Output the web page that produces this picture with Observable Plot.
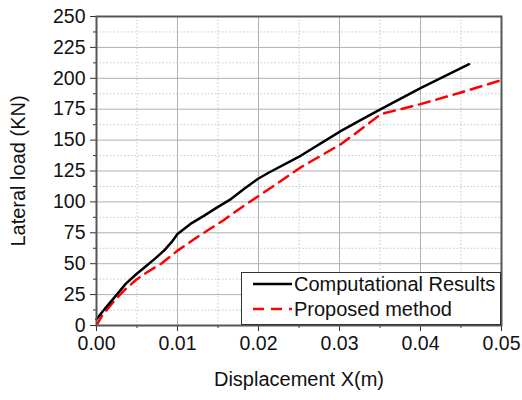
<!DOCTYPE html>
<html>
<head>
<meta charset="utf-8">
<script src="https://cdn.jsdelivr.net/npm/d3@7"></script>
<script src="https://cdn.jsdelivr.net/npm/@observablehq/plot@0.6"></script>
<style>
  html, body { margin: 0; padding: 0; background: #fff; }
  #wrap { position: relative; width: 522px; height: 400px; font-family: "Liberation Sans", Arial, sans-serif; }
  #legend { position: absolute; background: #fff; border: 1px solid #333; box-sizing: border-box; font-size: 20px; color: #111; }
  #legend .row { position: absolute; left: 0; display: flex; align-items: center; }
  #legend svg { display: block; }
</style>
</head>
<body>
<div id="wrap"></div>
<script>
// Computational Results (black solid)
const compX = [0, 0.00115, 0.0024, 0.0036, 0.0049, 0.0061, 0.0073, 0.0084, 0.0094, 0.01, 0.0116, 0.0133, 0.0149, 0.0166, 0.0182, 0.0199, 0.0213, 0.0252, 0.0302, 0.0326, 0.0347, 0.04, 0.046];
const compY = [5, 14.5, 24.2, 33.7, 41.5, 48, 54.5, 61, 68.5, 74, 82.2, 88.9, 95.6, 102.3, 110.4, 118.5, 123.8, 137.3, 157.5, 166.2, 173.7, 192, 211.4];
// Proposed method (red dashed)
const propX = [0, 0.0007, 0.0024, 0.0036, 0.0049, 0.0061, 0.0081, 0.0100, 0.0127, 0.0156, 0.0182, 0.0213, 0.0252, 0.0302, 0.0335, 0.0351, 0.04, 0.045, 0.05];
const propY = [0, 8, 21.6, 29.6, 37, 42.5, 50.5, 60.6, 72.7, 84.8, 96.9, 110.4, 127.9, 146.8, 162.9, 171, 179.1, 188.5, 198.5];

const seriesNames = ["Computational Results", "Proposed method"];
const xTicks = [0, 0.01, 0.02, 0.03, 0.04, 0.05];
const xMinor = [0.005, 0.015, 0.025, 0.035, 0.045];
const yTicks = [0, 25, 50, 75, 100, 125, 150, 175, 200, 225, 250];
const yMinor = [12.5, 37.5, 62.5, 87.5, 112.5, 137.5, 162.5, 187.5, 212.5, 237.5];
const xLabel = "Displacement X(m)";
const yLabel = "Lateral load (KN)";

const comp = compX.map((x, i) => ({x, y: compY[i]}));
const prop = propX.map((x, i) => ({x, y: propY[i]}));

const W = 522, H = 400;
const mL = 96, mR = 21, mT = 16, mB = 75;

const chart = Plot.plot({
  width: W, height: H,
  marginLeft: mL, marginRight: mR, marginTop: mT, marginBottom: mB,
  style: { fontFamily: "Liberation Sans, Arial, sans-serif", fontSize: "19.5px", color: "#111", background: "#fff" },
  x: { domain: [0, 0.05] },
  y: { domain: [0, 250] },
  marks: [
    Plot.gridX(xMinor, { stroke: "#c8c8c8", strokeOpacity: 1, strokeDasharray: "1.5,2" }),
    Plot.gridY(yMinor, { stroke: "#c8c8c8", strokeOpacity: 1, strokeDasharray: "1.5,2" }),
    Plot.gridX(xTicks, { stroke: "#b0b0b0", strokeOpacity: 1 }),
    Plot.gridY(yTicks, { stroke: "#b0b0b0", strokeOpacity: 1 }),
    Plot.axisX(xMinor, { tickSize: 3, tickFormat: () => "", label: null, stroke: "#333" }),
    Plot.axisY(yMinor, { tickSize: 3, tickFormat: () => "", label: null, stroke: "#333" }),
    Plot.axisX(xTicks, { tickSize: 6, tickPadding: 5, fontSize: 19.5, tickFormat: d3.format(".2f"), label: null, stroke: "#333", fill: "#111" }),
    Plot.axisY(yTicks, { tickSize: 6, tickPadding: 5, fontSize: 19.5, tickFormat: d3.format("d"), label: null, stroke: "#333", fill: "#111" }),
    Plot.axisX({ ticks: [], tickSize: 0, label: xLabel, labelAnchor: "center", labelOffset: 60, labelArrow: "none", fontSize: 20, fill: "#111" }),
    Plot.axisY({ ticks: [], tickSize: 0, label: yLabel, labelAnchor: "center", labelOffset: 86, labelArrow: "none", fontSize: 20, fill: "#111" }),
    Plot.line(prop, { x: "x", y: "y", stroke: "#ff0000", strokeWidth: 2.5, strokeDasharray: "11,7" }),
    Plot.line(comp, { x: "x", y: "y", stroke: "#000", strokeWidth: 2.5 }),
    Plot.frame({ stroke: "#555", strokeWidth: 2 })
  ]
});

const wrap = document.getElementById("wrap");
wrap.appendChild(chart);

// Legend overlay, anchored to the bottom-right of the plot frame
const lg = document.createElement("div");
lg.id = "legend";
const lgW = 260, lgH = 53;
lg.style.left = (W - mR - lgW) + "px";
lg.style.top = (H - mB - lgH) + "px";
lg.style.width = lgW + "px";
lg.style.height = lgH + "px";
const styles = [{stroke: "#000", dash: null}, {stroke: "#ff0000", dash: "11,7"}];
seriesNames.forEach((name, i) => {
  const row = document.createElement("div");
  row.className = "row";
  row.style.top = (i === 0 ? -2 : 23) + "px";
  row.style.height = "26px";
  const s = styles[i];
  row.innerHTML = `<svg width="51" height="26"><line x1="11" x2="50" y1="13" y2="13" stroke="${s.stroke}" stroke-width="2.5" ${s.dash ? `stroke-dasharray="${s.dash}"` : ""}/></svg><span style="margin-left:1px;white-space:nowrap">${name}</span>`;
  lg.appendChild(row);
});
wrap.appendChild(lg);
</script>
</body>
</html>
